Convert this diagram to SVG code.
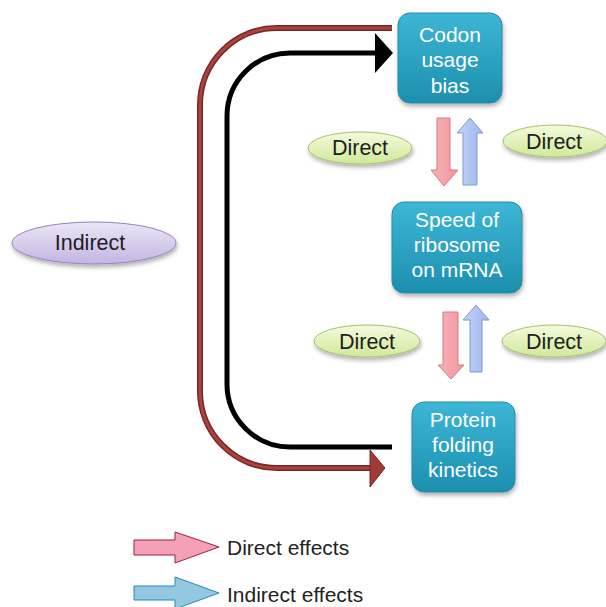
<svg xmlns="http://www.w3.org/2000/svg" width="606" height="607" viewBox="0 0 606 607">
<defs>
<linearGradient id="boxg" x1="0" y1="0" x2="0" y2="1"><stop offset="0" stop-color="#3db6d6"/><stop offset="1" stop-color="#1d8fae"/></linearGradient>
<linearGradient id="greeng" x1="0" y1="0" x2="0" y2="1"><stop offset="0" stop-color="#f4fadc"/><stop offset="1" stop-color="#cfe99a"/></linearGradient>
<linearGradient id="purpg" x1="0" y1="0" x2="0" y2="1"><stop offset="0" stop-color="#ece6f6"/><stop offset="1" stop-color="#c4b4e2"/></linearGradient>
<linearGradient id="pinkg" x1="0" y1="0" x2="1" y2="0"><stop offset="0" stop-color="#f7b4b8"/><stop offset="1" stop-color="#f0969c"/></linearGradient>
<linearGradient id="blueg" x1="0" y1="0" x2="1" y2="0"><stop offset="0" stop-color="#c4d4f6"/><stop offset="1" stop-color="#9cb6ec"/></linearGradient>
<filter id="sh" x="-20%" y="-20%" width="140%" height="140%"><feDropShadow dx="1" dy="3" stdDeviation="2" flood-color="#000" flood-opacity="0.3"/></filter>
</defs>
<style>
.box{fill:url(#boxg);stroke:#2a8aa5;stroke-width:1;filter:url(#sh)}
.bt{font-family:"Liberation Sans",Arial,sans-serif;font-size:21px;fill:#fff;text-anchor:middle}
.el{fill:url(#greeng);stroke:#a8c070;stroke-width:1;filter:url(#sh)}
.lt{font-family:"Liberation Sans",Arial,sans-serif;font-size:21.5px;fill:#1e1e1e;text-anchor:middle}
.pa{fill:url(#pinkg);stroke:#d8787e;stroke-width:1}
.ba{fill:url(#blueg);stroke:#7e9ad6;stroke-width:1}
.leg{font-family:"Liberation Sans",Arial,sans-serif;font-size:21px;fill:#222}
</style>
<g id="connectors">
<path d="M392,28 H277 A77,77 0 0 0 200,105 V391 A77,77 0 0 0 277,468 H372" fill="none" stroke="#7e2626" stroke-width="6"/>
<path d="M392,28 H277 A77,77 0 0 0 200,105 V391 A77,77 0 0 0 277,468 H372" fill="none" stroke="#a8443e" stroke-width="3"/>
<polygon points="370,450 385,468 370,487" fill="#a03a36" stroke="#7e2626" stroke-width="1"/>
<path d="M392,447 H290 A63,63 0 0 1 227,384 V116 A63,63 0 0 1 290,53 H377" fill="none" stroke="#000" stroke-width="5"/>
<polygon points="375,33 393,53 375,73" fill="#000"/>
<polygon class="pa" points="437,118 450,118 450,170 458,170 444,186 431,170 437,170"/>
<polygon class="ba" points="463,185 477,185 477,133 483,133 470,118 457,133 463,133"/>
<polygon class="pa" points="443,312 458,312 458,365 464,365 451,379 438,365 443,365"/>
<polygon class="ba" points="470,372 482,372 482,320 489,320 476,305 463,320 470,320"/>
</g>
<g id="codon">
<rect class="box" x="398" y="13" width="104" height="90" rx="12"/>
<text class="bt" x="450" y="42">Codon</text>
<text class="bt" x="450" y="67">usage</text>
<text class="bt" x="450" y="93">bias</text>
</g>
<g id="speed">
<rect class="box" x="392" y="202" width="130" height="91" rx="12"/>
<text class="bt" x="457" y="227">Speed of</text>
<text class="bt" x="457" y="252">ribosome</text>
<text class="bt" x="457" y="277">on mRNA</text>
</g>
<g id="protein">
<rect class="box" x="412" y="402" width="103" height="90" rx="12"/>
<text class="bt" x="463" y="427">Protein</text>
<text class="bt" x="463" y="452">folding</text>
<text class="bt" x="463" y="477">kinetics</text>
</g>
<g id="indirect">
<ellipse cx="94" cy="243" rx="82" ry="21" fill="url(#purpg)" stroke="#9484c0" stroke-width="1" filter="url(#sh)"/>
<text class="lt" x="90" y="250">Indirect</text>
</g>
<g id="direct1">
<ellipse class="el" cx="360" cy="148" rx="52" ry="16"/>
<text class="lt" x="360" y="155">Direct</text>
</g>
<g id="direct2">
<ellipse class="el" cx="555" cy="141" rx="52" ry="16"/>
<text class="lt" x="554" y="149">Direct</text>
</g>
<g id="direct3">
<ellipse class="el" cx="367" cy="341" rx="53" ry="16"/>
<text class="lt" x="367" y="349">Direct</text>
</g>
<g id="direct4">
<ellipse class="el" cx="554" cy="341" rx="52" ry="16"/>
<text class="lt" x="554" y="349">Direct</text>
</g>
<g id="legend">
<polygon points="134,540 175,540 175,532 219,547 175,563 175,555 134,555" fill="#f4a0b6" stroke="#a01e44" stroke-width="1"/>
<text class="leg" x="227" y="555">Direct effects</text>
<polygon points="134,586 175,586 175,577 219,593 175,609 175,600 134,600" fill="#94c8e0" stroke="#1e8cc0" stroke-width="1"/>
<text class="leg" x="227" y="602">Indirect effects</text>
</g>
</svg>
